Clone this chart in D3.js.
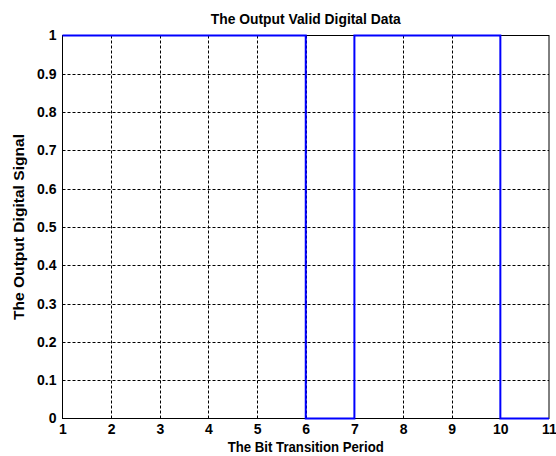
<!DOCTYPE html>
<html>
<head>
<meta charset="utf-8">
<script src="https://cdn.jsdelivr.net/npm/d3@7"></script>
<style>
  html, body { margin: 0; padding: 0; background: #fff; }
  svg { display: block; font-family: "Liberation Sans", Arial, sans-serif; }
</style>
</head>
<body>
<div id="chart"></div>
<script>
const bitPeriods = [1, 2, 3, 4, 5, 6, 7, 8, 9, 10, 11];
const outputSignal = [1, 1, 1, 1, 1, 0, 1, 1, 1, 0, 0];
const xTickValues = [1, 2, 3, 4, 5, 6, 7, 8, 9, 10, 11];
const yTickValues = [0, 0.1, 0.2, 0.3, 0.4, 0.5, 0.6, 0.7, 0.8, 0.9, 1];
const yTickLabels = ['0', '0.1', '0.2', '0.3', '0.4', '0.5', '0.6', '0.7', '0.8', '0.9', '1'];

const titleText = 'The Output Valid Digital Data';
const xLabelText = 'The Bit Transition Period';
const yLabelText = 'The Output Digital Signal';

const width = 556;
const height = 456;
const margin = { top: 35.5, right: 7, bottom: 37.5, left: 62.5 };

const svg = d3.select('#chart')
  .append('svg')
  .attr('width', width)
  .attr('height', height);

svg.append('rect')
  .attr('width', width)
  .attr('height', height)
  .attr('fill', '#fff');

const x = d3.scaleLinear()
  .domain([1, 11])
  .range([margin.left, width - margin.right]);

const y = d3.scaleLinear()
  .domain([0, 1])
  .range([height - margin.bottom, margin.top]);

// grid
const grid = svg.append('g')
  .attr('stroke', '#000')
  .attr('stroke-width', 1)
  .attr('stroke-dasharray', '3,2');

grid.selectAll('line.v')
  .data(xTickValues.slice(1, -1))
  .enter().append('line')
    .attr('class', 'v')
    .attr('x1', d => Math.round(x(d)) + 0.5)
    .attr('x2', d => Math.round(x(d)) + 0.5)
    .attr('y1', y(1))
    .attr('y2', y(0));

grid.selectAll('line.h')
  .data(yTickValues.slice(1, -1))
  .enter().append('line')
    .attr('class', 'h')
    .attr('y1', d => Math.round(y(d)) + 0.5)
    .attr('y2', d => Math.round(y(d)) + 0.5)
    .attr('x1', x(1))
    .attr('x2', x(11));

// axes box
svg.append('rect')
  .attr('x', x(1))
  .attr('y', y(1))
  .attr('width', x(11) - x(1))
  .attr('height', y(0) - y(1))
  .attr('fill', 'none')
  .attr('stroke', '#000')
  .attr('stroke-width', 1);

// tick labels
const xAxis = d3.axisBottom(x)
  .tickValues(xTickValues)
  .tickFormat(d3.format('d'))
  .tickSize(0)
  .tickPadding(6);

const gx = svg.append('g')
  .attr('transform', `translate(0,${y(0)})`)
  .call(xAxis);
gx.select('.domain').remove();
gx.selectAll('text')
  .attr('fill', '#000')
  .attr('font-family', '"Liberation Sans", Arial, sans-serif')
  .attr('font-size', 14)
  .attr('font-weight', 'bold');

const yAxis = d3.axisLeft(y)
  .tickValues(yTickValues)
  .tickFormat((d, i) => yTickLabels[i])
  .tickSize(0)
  .tickPadding(6);

const gy = svg.append('g')
  .attr('transform', `translate(${x(1)},0)`)
  .call(yAxis);
gy.select('.domain').remove();
gy.selectAll('text')
  .attr('fill', '#000')
  .attr('font-family', '"Liberation Sans", Arial, sans-serif')
  .attr('font-size', 14)
  .attr('font-weight', 'bold');

// signal
const line = d3.line()
  .x(d => x(d[0]))
  .y(d => y(d[1]))
  .curve(d3.curveStepAfter);

svg.append('path')
  .datum(bitPeriods.map((p, i) => [p, outputSignal[i]]))
  .attr('d', line)
  .attr('fill', 'none')
  .attr('stroke', '#0000ff')
  .attr('stroke-width', 2);

// labels
const cx = (x(1) + x(11)) / 2;

svg.append('text')
  .attr('x', cx)
  .attr('y', 24)
  .attr('text-anchor', 'middle')
  .attr('font-size', 14)
  .attr('font-weight', 'bold')
  .attr('textLength', 190)
  .attr('lengthAdjust', 'spacingAndGlyphs')
  .text(titleText);

svg.append('text')
  .attr('x', cx)
  .attr('y', 452)
  .attr('text-anchor', 'middle')
  .attr('font-size', 14)
  .attr('font-weight', 'bold')
  .attr('textLength', 156)
  .attr('lengthAdjust', 'spacingAndGlyphs')
  .text(xLabelText);

svg.append('text')
  .attr('transform', `translate(24,${(y(0) + y(1)) / 2}) rotate(-90)`)
  .attr('text-anchor', 'middle')
  .attr('font-size', 14)
  .attr('font-weight', 'bold')
  .attr('textLength', 186)
  .attr('lengthAdjust', 'spacingAndGlyphs')
  .text(yLabelText);
</script>
</body>
</html>
